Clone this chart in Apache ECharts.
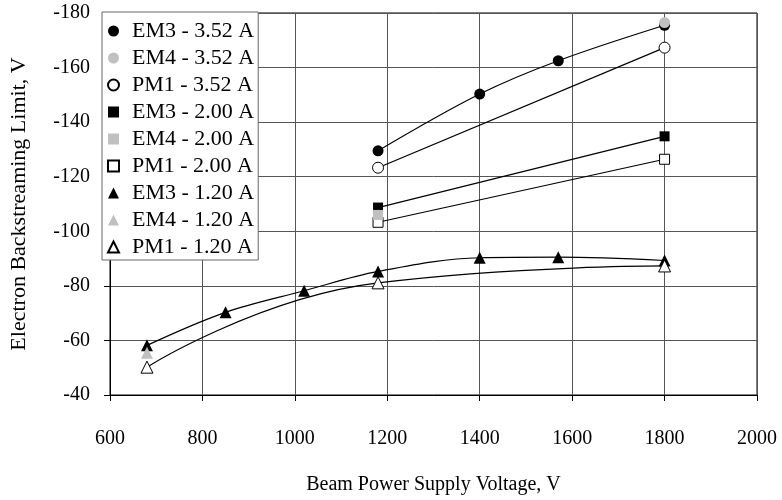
<!DOCTYPE html>
<html><head><meta charset="utf-8">
<script src="https://cdn.jsdelivr.net/npm/echarts@6/dist/echarts.min.js"></script>
<style>html,body{margin:0;padding:0;background:#fff}#c{width:782px;height:500px}</style>
</head><body><div id="c"></div>
<script>
const xTicks = [600, 800, 1000, 1200, 1400, 1600, 1800, 2000];
const yTicks = [-180, -160, -140, -120, -100, -80, -60, -40];
const seriesNames = ['EM3 - 3.52 A','EM4 - 3.52 A','PM1 - 3.52 A','EM3 - 2.00 A','EM4 - 2.00 A','PM1 - 2.00 A','EM3 - 1.20 A','EM4 - 1.20 A','PM1 - 1.20 A'];
const em3_352 = [[1180,-129.5],[1400,-150.3],[1570,-162.5],[1800,-175.5]];
const em4_352 = [[1800,-176.5]];
const pm1_352 = [[1180,-123.3],[1800,-167.3]];
const em3_200 = [[1180,-108.7],[1800,-134.8]];
const em4_200 = [[1180,-106]];
const pm1_200 = [[1180,-103.3],[1800,-126.4]];
const em3_120 = [[680,-58.2],[850,-70.3],[1020,-78.2],[1180,-85.3],[1400,-90.3],[1570,-90.5],[1800,-89.3]];
const em4_120 = [[680,-55.5]];
const pm1_120 = [[680,-50.2],[1180,-81.1],[1800,-87.3]];

const FONT = '"Liberation Serif", "Times New Roman", serif';
const BLACK = '#000', GRAY = '#c0c0c0', WHITE = '#fff';
function mk(name, data, sym, fill, withLine, size, z, smooth) {
  return {
    name, type: 'line', data, symbol: sym, symbolSize: size,
    smooth: smooth, z: z,
    showSymbol: true,
    itemStyle: { color: fill, borderColor: fill === WHITE ? BLACK : fill, borderWidth: fill === WHITE ? 1 : 0 },
    lineStyle: withLine ? { color: BLACK, width: 1.2 } : { width: 0, opacity: 0 },
    emphasis: { disabled: true },
    animation: false
  };
}
const chart = echarts.init(document.getElementById('c'));
chart.setOption({
  animation: false,
  grid: { left: 103, right: 25, top: 13, bottom: 103, show: true, borderColor: '#000', borderWidth: 1, containLabel: false },
  legend: {
    orient: 'vertical', left: 102, top: 12,
    backgroundColor: '#fff', borderColor: '#666', borderWidth: 1,
    padding: [8, 4, 2, 5],
    itemWidth: 11, itemHeight: 11, itemGap: 5,
    textStyle: { fontFamily: FONT, fontSize: 22, color: '#000', lineHeight: 22, padding: [0, 0, 0, 8] },
    data: seriesNames.map((n, i) => ({ name: n, icon: ['circle','circle','circle','rect','rect','rect','triangle','triangle','triangle'][i] })),
    selectedMode: false
  },
  xAxis: {
    type: 'value', min: 600, max: 2000, interval: 200,
    name: 'Beam Power Supply Voltage, V', nameLocation: 'middle', nameGap: 80,
    nameTextStyle: { fontFamily: FONT, fontSize: 20, color: '#000' },
    axisLine: { lineStyle: { color: '#000', width: 1 } },
    axisTick: { show: true, length: 6, lineStyle: { color: '#000' } },
    axisLabel: { fontFamily: FONT, fontSize: 20, color: '#000', margin: 34, formatter: v => String(v) },
    splitLine: { show: true, lineStyle: { color: '#555', width: 1 } }
  },
  yAxis: {
    type: 'value', min: -180, max: -40, interval: 20, inverse: true,
    name: 'Electron Backstreaming Limit, V', nameLocation: 'middle', nameGap: 80,
    nameTextStyle: { fontFamily: FONT, fontSize: 22, color: '#000' },
    axisLine: { show: true, lineStyle: { color: '#000', width: 1 } },
    axisTick: { show: true, length: 6, lineStyle: { color: '#000' } },
    axisLabel: { fontFamily: FONT, fontSize: 20, color: '#000', margin: 20, formatter: v => String(v) },
    splitLine: { show: true, lineStyle: { color: '#555', width: 1 } }
  },
  series: [
    mk(seriesNames[0], em3_352, 'circle', BLACK, true, 11, 3, 0.35),
    mk(seriesNames[1], em4_352, 'circle', GRAY, false, 11, 4, 0),
    mk(seriesNames[2], pm1_352, 'circle', WHITE, true, 11, 3, 0),
    mk(seriesNames[3], em3_200, 'rect', BLACK, true, 10, 3, 0),
    mk(seriesNames[4], em4_200, 'rect', GRAY, false, 10, 4, 0),
    mk(seriesNames[5], pm1_200, 'rect', WHITE, true, 10, 3, 0),
    mk(seriesNames[6], em3_120, 'triangle', BLACK, true, 12, 3, 0.35),
    mk(seriesNames[7], em4_120, 'triangle', GRAY, false, 12, 4, 0),
    mk(seriesNames[8], pm1_120, 'triangle', WHITE, true, 12, 5, 0.5)
  ]
});
</script></body></html>
